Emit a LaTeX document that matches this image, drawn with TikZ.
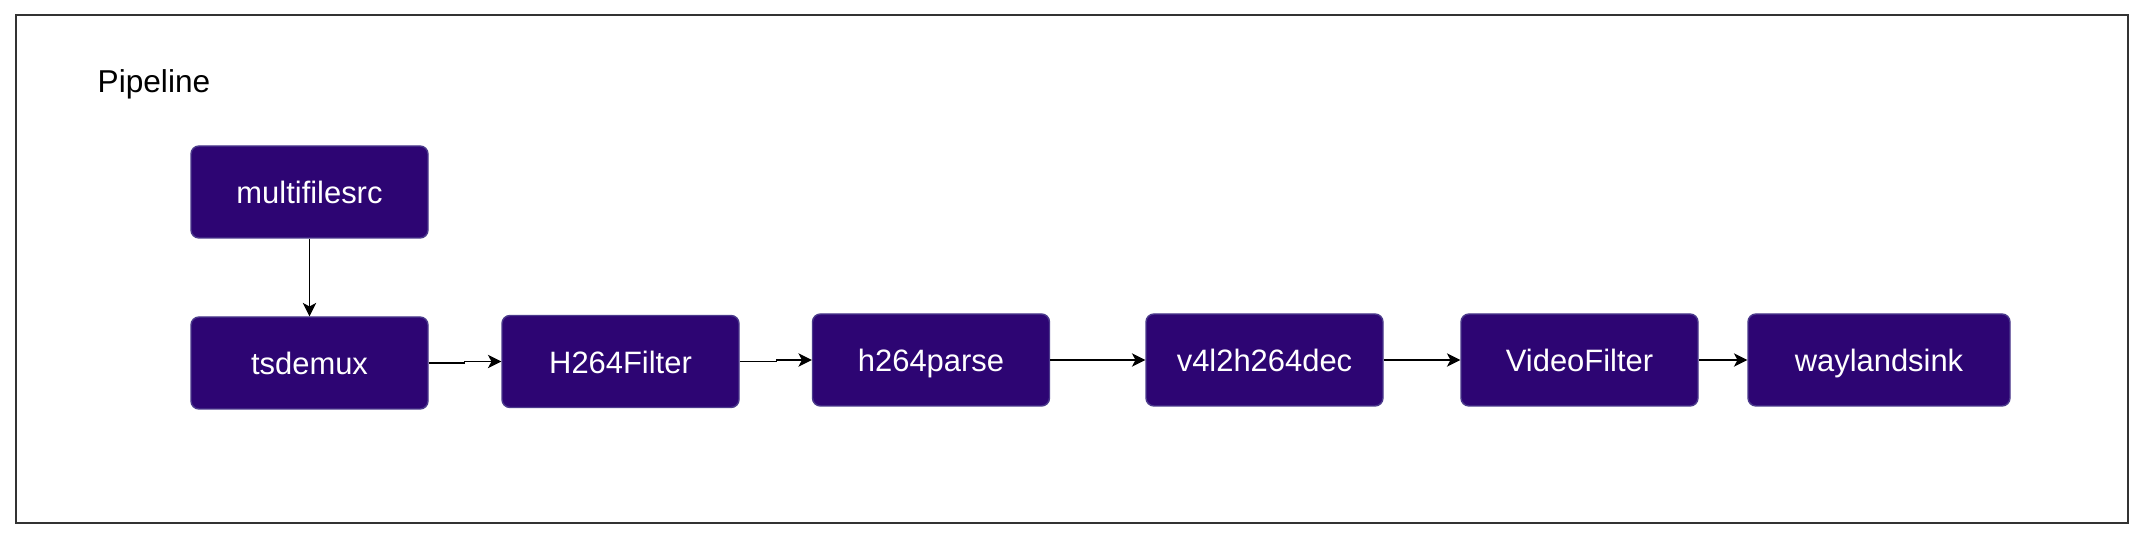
\documentclass[tikz,border=0pt]{standalone}
\usepackage{fontspec}
\setmainfont{Liberation Sans}
\usetikzlibrary{arrows.meta}
\definecolor{elemfill}{HTML}{2D0573}
\definecolor{elemline}{HTML}{4B3A8C}
\begin{document}
\begin{tikzpicture}[
        elem/.style={draw=elemline, fill=elemfill, text=white, rounded corners=0.08cm,
            minimum width=2.37cm, minimum height=0.92cm, inner sep=0pt,
            text height=0.88em, text depth=0.2em,
            font=\fontsize{8.8pt}{10pt}\selectfont},
        flow/.style={line width=0.4pt, -{Stealth[length=3.8pt,width=3.8pt,inset=1pt]}}
    ]
        \useasboundingbox (0,0) rectangle (21.35,-5.38);
        \draw[line width=0.5pt, black!80] (0.16,-0.15) rectangle (21.28,-5.23);
        \node[anchor=west, inner sep=0pt, font=\fontsize{9pt}{10pt}\selectfont] (title) at (0.97,-0.84){Pipeline};
        \node[elem] (src) at (3.095,-1.92){multifilesrc};
        \node[elem] (demux) at (3.095,-3.63){tsdemux};
        \node[elem] (hfilter) at (6.205,-3.615){H264Filter};
        \node[elem] (parse) at (9.31,-3.60){h264parse};
        \node[elem] (dec) at (12.645,-3.60){v4l2h264dec};
        \node[elem] (vfilter) at (15.795,-3.60){VideoFilter};
        \node[elem, minimum width=2.62cm] (sink) at (18.79,-3.60){waylandsink};
        % \node[elem] (queue) at (12.645,-1.92){queue};
        \draw[flow] (src) -- (demux);
        \draw[flow] (demux.east) -- ++(0.36,0) |- (hfilter.west);
        \draw[flow] (hfilter.east) -- ++(0.37,0) |- (parse.west);
        \draw[flow] (parse) -- (dec);
        \draw[flow] (dec) -- (vfilter);
        \draw[flow] (vfilter) -- (sink);
    \end{tikzpicture}
\end{document}
